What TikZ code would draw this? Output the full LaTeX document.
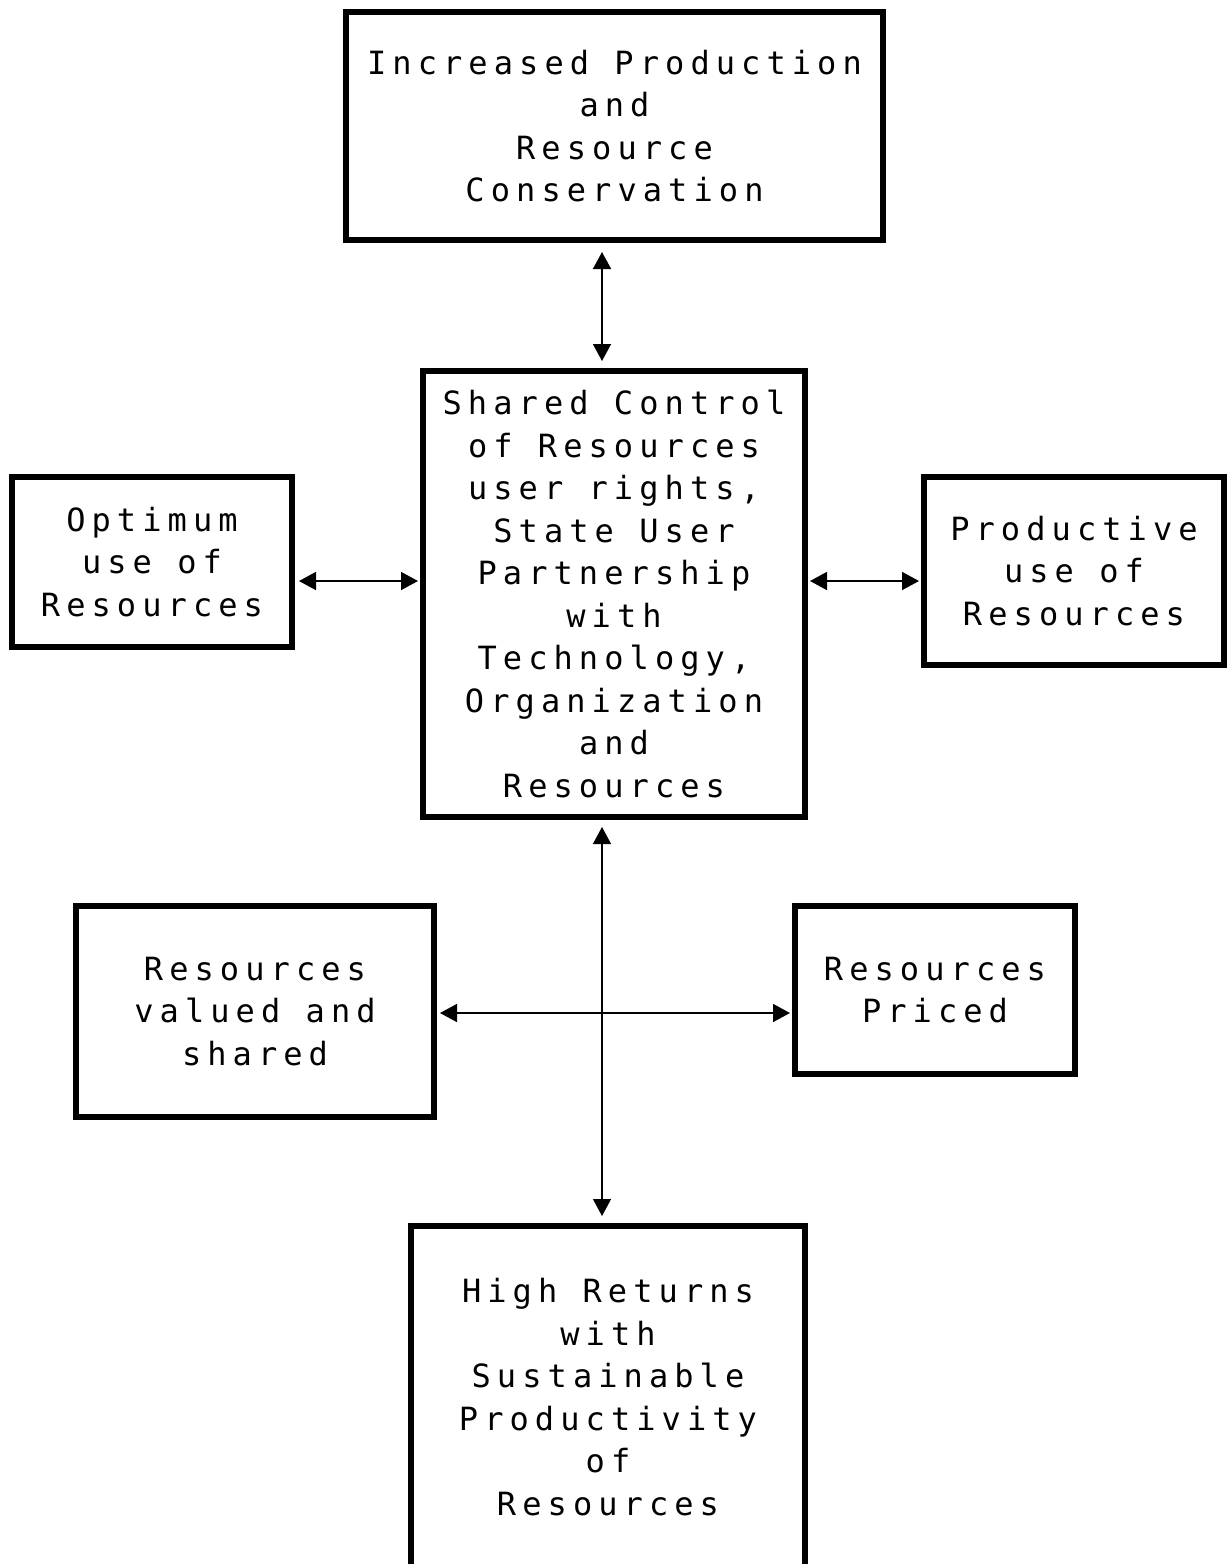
\documentclass[tikz,border=0pt]{standalone}
\usepackage{fontspec}
\setmonofont[LetterSpace=19]{DejaVu Sans Mono}
\usetikzlibrary{arrows.meta}

\tikzset{
  blk/.style={draw,line width=6pt,inner sep=0pt,align=center,
    font=\ttfamily\fontsize{32}{42.5}\selectfont},
  link/.style={arrows={Triangle[length=17pt,width=18pt]-Triangle[length=17pt,width=18pt]},line width=1.6pt}
}

\begin{document}
\begin{tikzpicture}[x=1pt,y=-1pt]
\useasboundingbox (0,0) rectangle (1229,1564);

% boxes
\node[blk,minimum width=537,minimum height=228] (prod) at (614.5,126)
  {Increased Production\\and\\Resource\\Conservation};
\node[blk,minimum width=382,minimum height=446] (ctrl) at (614,594)
  {Shared Control\\of Resources\\user rights,\\State User\\Partnership\\with\\Technology,\\Organization\\and\\Resources};
\node[blk,minimum width=280,minimum height=170] (opt) at (152,562)
  {Optimum\\use of\\Resources};
\node[blk,minimum width=300,minimum height=188] (prd) at (1074,571)
  {Productive\\use of\\Resources};
\node[blk,minimum width=358,minimum height=211] (val) at (255,1011.5)
  {Resources\\valued and\\shared};
\node[blk,minimum width=280,minimum height=168] (pri) at (935,990)
  {Resources\\Priced};
\node[blk,minimum width=394,minimum height=342] (ret) at (608,1397)
  {High Returns\\with\\Sustainable\\Productivity\\of\\Resources};

\coordinate (vl) at (602,0);
\coordinate (hl) at (0,581);
\coordinate (cl) at (0,1013);

% connectors
\draw[link,shorten <=9pt,shorten >=7pt] (prod.south -| vl) -- (ctrl.north -| vl);
\draw[link,shorten <=4pt,shorten >=2pt] (opt.east |- hl) -- (ctrl.west |- hl);
\draw[link,shorten <=2pt,shorten >=2pt] (ctrl.east |- hl) -- (prd.west |- hl);
\draw[link,line width=1.2pt,shorten <=7pt,shorten >=7pt] (ctrl.south -| vl) -- (ret.north -| vl);
\draw[link,shorten <=3pt,shorten >=2pt] (val.east |- cl) -- (pri.west |- cl);

\end{tikzpicture}
\end{document}
